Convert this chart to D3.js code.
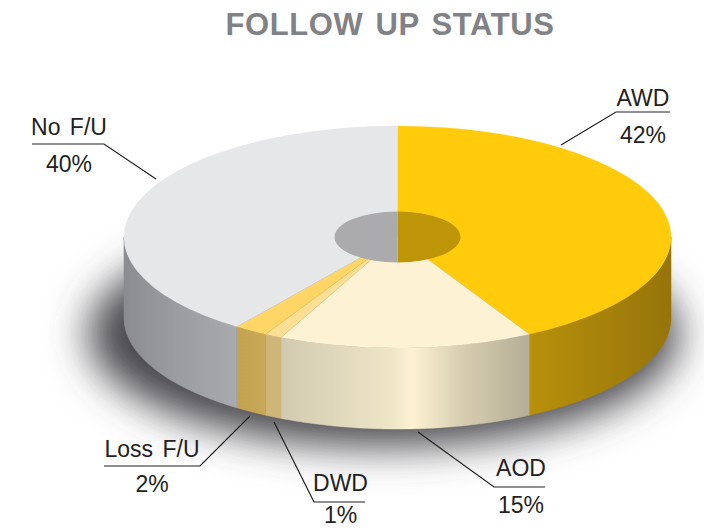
<!DOCTYPE html>
<meta charset="utf-8">
<style>
  html, body { margin: 0; background: #fff; }
  text { font-family: "Liberation Sans", sans-serif; fill: #231f20; font-size: 23px; word-spacing: 3px; }
</style>
<svg width="704" height="528"></svg>
<script src="https://d3js.org/d3.v7.min.js"></script>
<script>
// values, clockwise from 12 o'clock
var categories = ["AWD", "AOD", "DWD", "Loss F/U", "No F/U"]
var percents = [42, 15, 1, 2, 40]

var topColors = ["#ffcb0a", "#fdf2d3", "#ffdf94", "#ffd666", "#e6e7e9"]
var holeColors = ["#bd9507", "#ababad"]

// wall shading, left to right
var wallStops = {
  "AWD": ["#b8900a", "#96740a"],
  "AOD": ["#d2cab0", "#efe6c8", "#fdf1d2", "#d8cfb2", "#b5ad95"],
  "DWD": ["#ceb679", "#ceb679"],
  "Loss F/U": ["#c2a24e", "#c8a958"],
  "No F/U": ["#8b8c90", "#9c9da1", "#a9aaae"]
}

var cx = 397.5, cy = 237, rx = 273.5, ry = 111, depth = 81
var holeRx = 63, holeRy = 25.5

var svg = d3.select("svg")
var defs = svg.append("defs")

defs.append("filter").attr("id", "blur")
  .attr("x", "-30%").attr("y", "-50%").attr("width", "160%").attr("height", "200%")
  .append("feGaussianBlur").attr("stdDeviation", 20)

var slices = d3.pie().sort(null)(percents)
slices.forEach(function (s, i) { s.name = categories[i] })

var xPos = d3.scaleLinear().domain([-1, 1]).range([cx - rx, cx + rx])
var yPos = d3.scaleLinear().domain([-1, 1]).range([cy - ry, cy + ry])

function ellipsePoint(a) {
  return [xPos(Math.sin(a)), yPos(-Math.cos(a))]
}

// drop shadow
svg.append("ellipse")
  .attr("cx", cx - 14).attr("cy", cy + 97)
  .attr("rx", rx + 22).attr("ry", ry + 2)
  .attr("fill", "#48494d")
  .attr("filter", "url(#blur)")

// side wall, only the front half of the rim shows
var wallLine = d3.line()
var walls = svg.append("g")

slices.forEach(function (s, i) {
  var a0 = Math.max(s.startAngle, Math.PI / 2)
  var a1 = Math.min(s.endAngle, Math.PI * 1.5)
  if (a1 <= a0) return

  var rim = d3.range(0, 61).map(function (k) {
    return ellipsePoint(a0 + (a1 - a0) * k / 60)
  })
  var pts = rim.concat(rim.slice().reverse().map(function (p) { return [p[0], p[1] + depth] }))

  var xs = rim.map(function (p) { return p[0] })
  var id = "wall" + i
  var stops = wallStops[s.name]
  var grad = defs.append("linearGradient").attr("id", id)
    .attr("gradientUnits", "userSpaceOnUse")
    .attr("x1", d3.min(xs)).attr("x2", d3.max(xs))
    .attr("y1", 0).attr("y2", 0)
  stops.forEach(function (c, j) {
    grad.append("stop")
      .attr("offset", s.name === "AOD" ? [0, 0.45, 0.53, 0.72, 1][j] : j / (stops.length - 1))
      .attr("stop-color", c)
  })
  walls.append("path")
    .attr("d", wallLine(pts) + "Z")
    .attr("fill", "url(#" + id + ")")
    .attr("stroke", "url(#" + id + ")")
    .attr("stroke-width", 0.5)
})

// top face, circular arcs squashed into the ellipse
var arc = d3.arc().innerRadius(0).outerRadius(rx)
svg.append("g")
  .attr("transform", "translate(" + cx + "," + cy + ") scale(1," + (ry / rx) + ")")
  .selectAll("path")
  .data(slices)
  .join("path")
  .attr("d", arc)
  .attr("fill", function (d, i) { return topColors[i] })
  .attr("stroke", function (d, i) { return topColors[i] })
  .attr("stroke-width", 0.4)

// centre hole
var holeArc = d3.arc().innerRadius(0).outerRadius(holeRx)
svg.append("g")
  .attr("transform", "translate(" + cx + "," + cy + ") scale(1," + (holeRy / holeRx) + ")")
  .selectAll("path")
  .data([{ startAngle: 0, endAngle: Math.PI }, { startAngle: Math.PI, endAngle: Math.PI * 2 }])
  .join("path")
  .attr("d", holeArc)
  .attr("fill", function (d, i) { return holeColors[i] })

// leader lines and labels
var leaders = {
  "AWD": [[561, 145], [616, 112], [670, 112]],
  "AOD": [[418, 432], [494, 487], [545, 487]],
  "DWD": [[274, 422], [314, 502], [365, 502]],
  "Loss F/U": [[250, 416], [200, 466], [104, 466]],
  "No F/U": [[156, 179], [104, 144], [32, 144]]
}
var labelPos = {
  "AWD": [643, 106, 143],
  "AOD": [521, 476, 513],
  "DWD": [340.5, 491, 523],
  "Loss F/U": [152, 457, 492],
  "No F/U": [69, 135, 172]
}

var labels = svg.append("g")
slices.forEach(function (s) {
  labels.append("path")
    .attr("d", wallLine(leaders[s.name]))
    .attr("fill", "none")
    .attr("stroke", "#231f20")
    .attr("stroke-width", 1.2)
  var p = labelPos[s.name]
  labels.append("text").attr("x", p[0]).attr("y", p[1])
    .attr("text-anchor", "middle").text(s.name)
  labels.append("text").attr("x", p[0]).attr("y", p[2])
    .attr("text-anchor", "middle").text(s.value + "%")
})

svg.append("text")
  .attr("x", 390).attr("y", 35)
  .attr("text-anchor", "middle")
  .style("font-size", "31px")
  .style("font-weight", "bold")
  .style("fill", "#808285")
  .style("letter-spacing", "0.6px")
  .style("word-spacing", "3px")
  .text("FOLLOW UP STATUS")
</script>
